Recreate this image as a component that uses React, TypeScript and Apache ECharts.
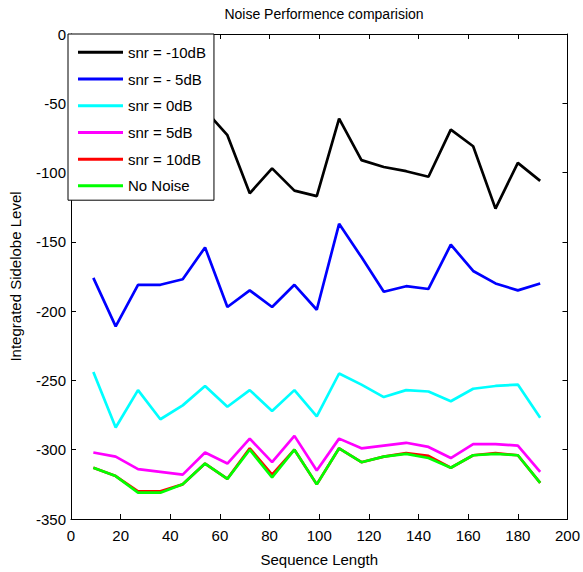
import React, { useEffect, useRef } from "react";
import * as echarts from "echarts";

const xValues = [9, 18, 27, 36, 45, 54, 63, 72, 81, 90, 99, 108, 117, 126, 135, 144, 153, 162, 171, 180, 189];
const snrM10 = [-60, -72, -64, -70, -66, -55, -73, -115, -97, -113, -117, -61, -91, -96, -99, -103, -69, -81, -126, -93, -106];
const snrM5 = [-176, -211, -181, -181, -177, -154, -197, -185, -197, -181, -199, -137, -161, -186, -182, -184, -152, -171, -180, -185, -180];
const snr0 = [-244, -284, -257, -278, -268, -254, -269, -257, -272, -257, -276, -245, -253, -262, -257, -258, -265, -256, -254, -253, -277];
const snr5 = [-302, -305, -314, -316, -318, -302, -310, -292, -309, -290, -315, -292, -299, -297, -295, -298, -306, -296, -296, -297, -316];
const snr10 = [-313, -319, -330, -330, -325, -310, -321, -299, -318, -300, -325, -299, -309, -305, -302.5, -304.5, -313, -304, -302.5, -304, -324];
const noNoise = [-313, -319, -331, -331, -325, -310, -321, -300, -320, -300, -325, -299, -309, -305, -303, -306, -313, -304, -303, -304, -324];

const seriesNames = ["snr = -10dB", "snr = - 5dB", "snr = 0dB", "snr = 5dB", "snr = 10dB", "No Noise"];
const seriesColors = ["#000000", "#0000ff", "#00ffff", "#ff00ff", "#ff0000", "#00ff00"];
const seriesData = [snrM10, snrM5, snr0, snr5, snr10, noNoise];

const FONT = "'Liberation Sans', Arial, sans-serif";

export default function App() {
  const ref = useRef<HTMLDivElement>(null);
  useEffect(() => {
    if (!ref.current) return;
    const chart = echarts.init(ref.current, undefined, { renderer: "svg" });
    const axisCommon = {
      axisLine: { show: true, onZero: false, lineStyle: { color: "#000", width: 1 } },
      axisTick: { show: true, inside: true, length: 5, lineStyle: { color: "#000" } },
      splitLine: { show: false },
    };
    chart.setOption({
      animation: false,
      backgroundColor: "#fff",
      title: {
        text: "Noise Performence comparision",
        left: 319,
        textAlign: "center",
        top: 2,
        textStyle: { fontFamily: FONT, fontSize: 14, fontWeight: "normal", color: "#000" },
      },
      grid: { left: 68, top: 34, right: 13, bottom: 53 },
      legend: {
        data: seriesNames,
        orient: "vertical",
        left: 68,
        top: 34,
        backgroundColor: "#fff",
        borderColor: "#000",
        borderWidth: 1,
        borderRadius: 0,
        padding: [9, 8, 5, 10],
        itemGap: 8,
        itemWidth: 45,
        itemHeight: 3,
        icon: "rect",
        textStyle: { fontFamily: FONT, fontSize: 15, color: "#000", lineHeight: 18.7 },
        selectedMode: false,
      },
      xAxis: [
        {
          type: "value",
          min: 0,
          max: 200,
          interval: 20,
          position: "bottom",
          name: "Sequence Length",
          nameLocation: "middle",
          nameGap: 33,
          nameTextStyle: { fontFamily: FONT, fontSize: 15, color: "#000" },
          axisLabel: { fontFamily: FONT, fontSize: 15, color: "#000", margin: 9 },
          ...axisCommon,
        },
        {
          type: "value",
          min: 0,
          max: 200,
          interval: 20,
          position: "top",
          axisLabel: { show: false },
          ...axisCommon,
        },
      ],
      yAxis: [
        {
          type: "value",
          min: -350,
          max: 0,
          interval: 50,
          position: "left",
          name: "Integrated Sidelobe Level",
          nameLocation: "middle",
          nameGap: 48,
          nameTextStyle: { fontFamily: FONT, fontSize: 15, color: "#000" },
          axisLabel: { fontFamily: FONT, fontSize: 15, color: "#000", margin: 5 },
          ...axisCommon,
        },
        {
          type: "value",
          min: -350,
          max: 0,
          interval: 50,
          position: "right",
          axisLabel: { show: false },
          ...axisCommon,
        },
      ],
      series: seriesNames.map((name, i) => ({
        name,
        type: "line",
        data: xValues.map((x, j) => [x, seriesData[i][j]]),
        symbol: "none",
        color: seriesColors[i],
        lineStyle: { color: seriesColors[i], width: 2.7 },
        z: 2,
      })),
    });
    return () => chart.dispose();
  }, []);
  return <div ref={ref} style={{ width: 583, height: 572, position: "absolute", left: 0, top: 0 }} />;
}
